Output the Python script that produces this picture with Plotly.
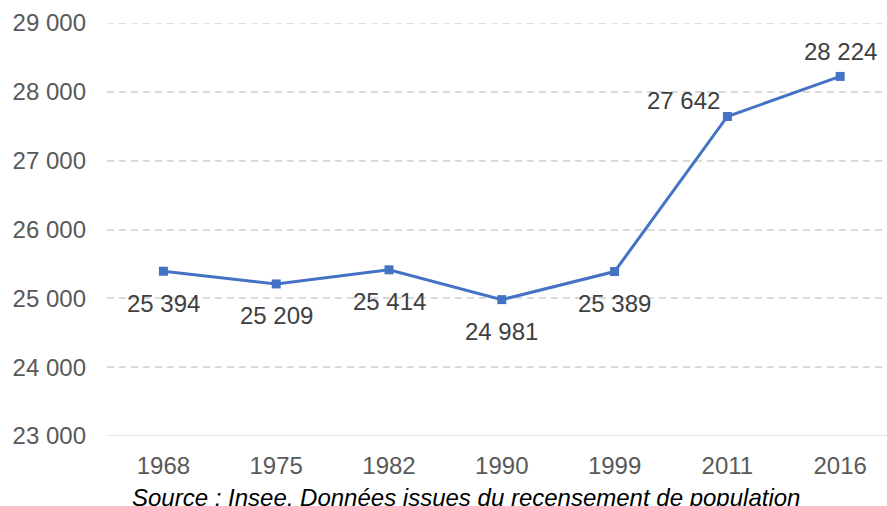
import plotly.graph_objects as go

years = ["1968", "1975", "1982", "1990", "1999", "2011", "2016"]
population = [25394, 25209, 25414, 24981, 25389, 27642, 28224]
label_text = ["25 394", "25 209", "25 414", "24 981", "25 389", "27 642", "28 224"]
y_ticks = [23000, 24000, 25000, 26000, 27000, 28000, 29000]
y_tick_text = ["23 000", "24 000", "25 000", "26 000", "27 000", "28 000", "29 000"]

xs = list(range(len(years)))
blue = "#4472C4"
font_fam = "Liberation Sans, Arial, sans-serif"

W, H = 887, 506
ml, mr, mt, mb = 107, 0, 23, 70

fig = go.Figure()
fig.add_trace(go.Scatter(
    x=xs, y=population, mode="lines+markers",
    line=dict(color=blue, width=3),
    marker=dict(symbol="square", size=9, color=blue),
    hoverinfo="skip", showlegend=False,
))

shifts = [(0, -32), (0, -32), (0, -32), (0, -32), (0, -32), (-44, 16), (0, 25)]
annotations = []
for x, v, t, (dx, dy) in zip(xs, population, label_text, shifts):
    annotations.append(dict(
        x=x, y=v, xref="x", yref="y", text=t, showarrow=False,
        xshift=dx, yshift=dy, xanchor="center", yanchor="middle",
        font=dict(family=font_fam, size=24, color="#404040"),
    ))
annotations.append(dict(
    x=(466 - ml) / (W - ml - mr), y=(H - mb - 482) / (H - mt - mb),
    xref="paper", yref="paper",
    text="<i>Source : Insee, Données issues du recensement de population</i>",
    showarrow=False, xanchor="center", yanchor="top",
    font=dict(family=font_fam, size=24, color="#000000"),
))

fig.update_layout(
    width=W, height=H,
    margin=dict(l=ml, r=mr, t=mt, b=mb, pad=0, autoexpand=False),
    paper_bgcolor="white", plot_bgcolor="white",
    annotations=annotations,
    font=dict(family=font_fam),
)
fig.update_xaxes(
    range=[-0.5, 6.415], automargin=False,
    tickmode="array", tickvals=xs, ticktext=years,
    showgrid=False, zeroline=False, showline=False, ticks="",
    tickfont=dict(family=font_fam, size=24, color="#595959"),
    ticklabelstandoff=13,
)
fig.update_yaxes(
    range=[23000, 29000], automargin=False,
    tickmode="array", tickvals=y_ticks, ticktext=y_tick_text,
    showgrid=True, gridcolor="#D9D9D9", griddash="7px,5px", gridwidth=1.5,
    zeroline=False, showline=False, ticks="",
    tickfont=dict(family=font_fam, size=24, color="#595959"),
    ticklabelstandoff=20,
)
for yv in (23000, 29000):
    fig.add_shape(type="line", xref="paper", yref="y", x0=0, x1=1, y0=yv, y1=yv,
                  line=dict(color="#D9D9D9", width=1.5, dash="solid" if yv == 23000 else "7px,5px"),
                  layer="below")

fig.write_html("out.html", config={"displayModeBar": False},
               post_script="document.body.style.margin='0';document.body.style.overflow='hidden';")
